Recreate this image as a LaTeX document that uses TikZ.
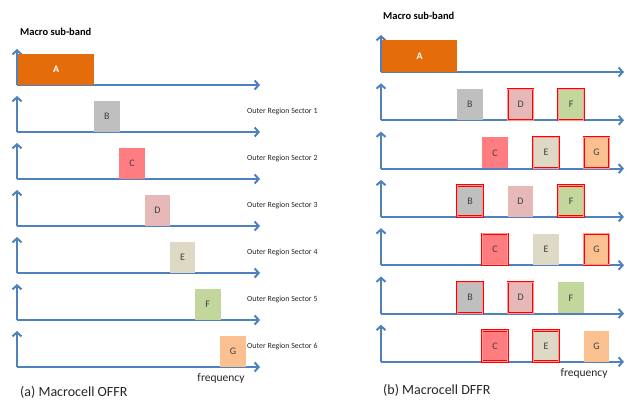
\documentclass[tikz,border=0pt]{standalone}
\usepackage{fontspec}
\setmainfont{Carlito}
\usetikzlibrary{arrows.meta}
\definecolor{axisblue}{HTML}{4F81BD}
\definecolor{cA}{HTML}{E46C0A}
\definecolor{cB}{HTML}{BFBFBF}
\definecolor{cC}{HTML}{FF7C80}
\definecolor{cD}{HTML}{E6B9B8}
\definecolor{cE}{HTML}{DDD9C4}
\definecolor{cF}{HTML}{C3D69B}
\definecolor{cG}{HTML}{FAC090}
\begin{document}
\begin{tikzpicture}[x=1pt,y=-1pt,
  axis/.style={draw=axisblue, line width=2pt, -{Straight Barb[length=4pt,width=9pt]}},
  band/.style={rectangle, minimum width=25.5pt, minimum height=31pt, inner sep=0pt,
    font=\fontsize{10}{12}\selectfont, text=black!75, anchor=south west},
  pl/.style={},
  hl/.style={draw=red, double=red!40, double distance=0.8pt, line width=0.7pt},
  seclabel/.style={anchor=west, font=\fontsize{7.9}{9}\selectfont, text=black!85, inner sep=0pt},
  title/.style={anchor=west, font=\bfseries\fontsize{10.5}{12}\selectfont, inner sep=0pt},
  caption/.style={anchor=west, font=\fontsize{14}{16}\selectfont, text=black!85, inner sep=0pt},
  freq/.style={font=\fontsize{11.5}{13}\selectfont, text=black!85, inner sep=0pt}]
\useasboundingbox (0,0) rectangle (632,401);

% ---------- left panel ----------
\node[title] (ltitle) at (20,32) {Macro sub-band};
\foreach \i in {0,...,6}{
  \pgfmathsetmacro{\yy}{85+47*\i}
  \coordinate (lo\i) at (17,\yy);
  \coordinate (ly\i) at (17,\yy-36);
  \coordinate (lx\i) at (260,\yy);
  \draw[axis] (lo\i) -- (lx\i);
  \draw[axis] (lo\i) -- (ly\i);
}
\node[band, fill=cA, minimum width=76pt, text=white, font=\bfseries\fontsize{10}{12}\selectfont] (lA) at (18,85) {A};
\foreach \i/\L in {1/B,2/C,3/D,4/E,5/F,6/G}{
  \pgfmathsetmacro{\yy}{85+47*\i}
  \pgfmathsetmacro{\xx}{94+25.2*(\i-1)}
  \node[band, fill=c\L] (l\L) at (\xx,\yy) {\L};
  \node[seclabel] (ls\i) at (247,\yy-21) {Outer Region Sector \i};
}
\node[freq] (lfreq) at (221,378) {frequency};
\node[caption] (lcap) at (20,392) {(a) Macrocell OFFR};

% ---------- right panel ----------
\node[title] (rtitle) at (383,16) {Macro sub-band};
\foreach \i in {0,...,6}{
  \pgfmathsetmacro{\yy}{72+48.3*\i}
  \coordinate (ro\i) at (381,\yy);
  \coordinate (ry\i) at (381,\yy-37);
  \coordinate (rx\i) at (624,\yy);
  \draw[axis] (ro\i) -- (rx\i);
  \draw[axis] (ro\i) -- (ry\i);
}
\node[band, fill=cA, minimum width=75pt, minimum height=32pt, text=white, font=\bfseries\fontsize{10}{12}\selectfont] (rA) at (382,72) {A};
\foreach \r/\L/\xx/\s in {1/B/457/pl,1/D/507.5/hl,1/F/558/hl,
                          2/C/482/pl,2/E/533/hl,2/G/583.5/hl,
                          3/B/457/hl,3/D/507.5/pl,3/F/558/hl,
                          4/C/482/hl,4/E/533/pl,4/G/583.5/hl,
                          5/B/457/hl,5/D/507.5/hl,5/F/558/pl,
                          6/C/482/hl,6/E/533/hl,6/G/583.5/pl}{
  \pgfmathsetmacro{\yy}{72+48.3*\r}
  \node[band, fill=c\L, \s] (r\r\L) at (\xx,\yy) {\L};
}
\node[freq] (rfreq) at (584,373) {frequency};
\node[caption] (rcap) at (383,390) {(b) Macrocell DFFR};
\end{tikzpicture}
\end{document}
